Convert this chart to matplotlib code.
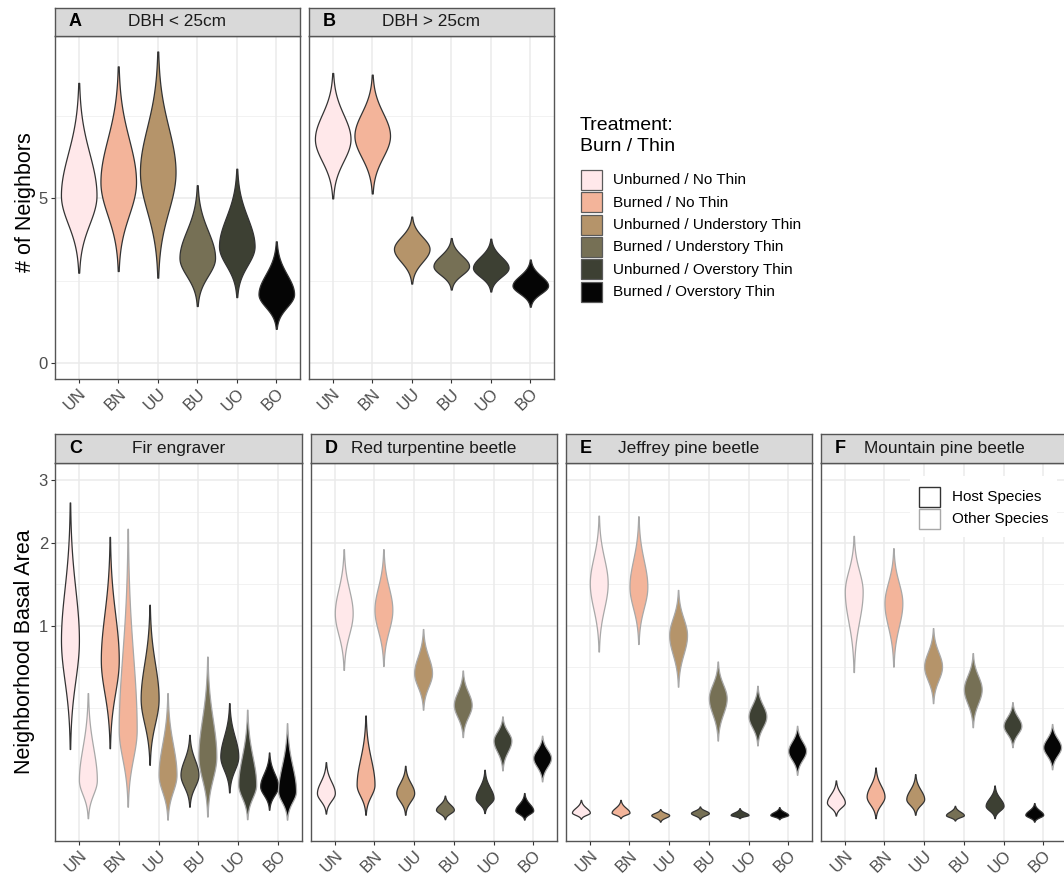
import numpy as np
import matplotlib.pyplot as plt
from matplotlib.patches import Rectangle

plt.rcParams['font.family'] = ['Liberation Sans', 'DejaVu Sans']

W, H = 1064, 882

treatments = ["UN", "BN", "UU", "BU", "UO", "BO"]
treat_labels = ["Unburned / No Thin", "Burned / No Thin", "Unburned / Understory Thin",
                "Burned / Understory Thin", "Unburned / Overstory Thin", "Burned / Overstory Thin"]
treat_colors = ["#FFE8EA", "#F3B49A", "#B5946A", "#767055", "#3D4033", "#050505"]

# top row: number of neighbours (min, mode, max of each violin)
small_lo = [2.75, 2.80, 2.60, 1.74, 2.01, 1.05]
small_mode = [5.1, 5.5, 5.8, 3.2, 3.55, 2.1]
small_hi = [8.5, 9.0, 9.45, 5.4, 5.9, 3.7]
large_lo = [5.0, 5.15, 2.42, 2.24, 2.18, 1.72]
large_mode = [6.8, 6.9, 3.47, 2.95, 2.9, 2.36]
large_hi = [8.8, 8.75, 4.45, 3.8, 3.78, 3.15]

# bottom row: neighbourhood basal area, [min, mode, max] per treatment
fir_host = [[0.144, 0.147, 0.09, 0.008, 0.026, 0.0055],
            [0.86, 0.685, 0.40, 0.0625, 0.117, 0.037],
            [2.62, 2.09, 1.22, 0.203, 0.372, 0.131]]
fir_other = [[0.001, 0.008, 0.0006, 0.0016, 0.0007, 0.0006],
             [0.05, 0.227, 0.0625, 0.117, 0.04, 0.028],
             [0.436, 2.21, 0.436, 0.712, 0.333, 0.259]]
rtb_host = [[0.003, 0.0024, 0.0024, 0.0007, 0.0033, 0.0006],
            [0.025, 0.04, 0.025, 0.0055, 0.0176, 0.005],
            [0.098, 0.30, 0.087, 0.021, 0.0756, 0.025]]
rtb_other = [[0.604, 0.635, 0.333, 0.193, 0.074, 0.047],
             [1.128, 1.164, 0.579, 0.361, 0.178, 0.112],
             [1.915, 1.915, 0.965, 0.599, 0.295, 0.199]]
jpb_host = [[0.0008, 0.001, 0.0002, 0.0007, 0.001, 0.0007],
            [0.0036, 0.0036, 0.0022, 0.0033, 0.0023, 0.0023],
            [0.0153, 0.0153, 0.006, 0.0082, 0.0067, 0.0076]]
jpb_other = [[0.756, 0.823, 0.48, 0.178, 0.158, 0.0625],
             [1.47, 1.43, 0.906, 0.403, 0.295, 0.137],
             [2.41, 2.40, 1.39, 0.671, 0.486, 0.246]]
mpb_host = [[0.002, 0.001, 0.0024, 0.0004, 0.001, 0.0002],
            [0.0122, 0.0198, 0.0163, 0.0022, 0.0088, 0.0024],
            [0.049, 0.082, 0.064, 0.0088, 0.0384, 0.0116]]
mpb_other = [[0.587, 0.630, 0.372, 0.239, 0.151, 0.077],
             [1.371, 1.239, 0.630, 0.462, 0.246, 0.151],
             [2.105, 1.929, 0.974, 0.742, 0.378, 0.255]]

GRID = "#EBEBEB"
BORDER = "#555555"


def px_axes(fig, x0, y0, x1, y1):
    return fig.add_axes([x0 / W, 1 - y1 / H, (x1 - x0) / W, (y1 - y0) / H])


def violin(ax, x, lo, mode, hi, hw, fc, ec):
    y = np.linspace(lo, hi, 300)
    d = np.where(y < mode, (y - mode) / (mode - lo), (y - mode) / (hi - mode))
    w = hw * np.exp(-0.5 * (2.7 * d) ** 2)
    ax.fill_betweenx(y, x - w, x + w, facecolor=fc, edgecolor=ec, lw=0.9, zorder=3)


def style_panel(ax, minor, show_y):
    ax.set_xlim(0.4, 6.6)
    ax.set_xticks(range(1, 7))
    ax.set_xticklabels(treatments, rotation=45, ha="right", va="top",
                       rotation_mode="anchor")
    for m in minor:
        ax.axhline(m, color="#F2F2F2", lw=0.7, zorder=0)
    ax.grid(True, color=GRID, lw=1.1, zorder=0)
    ax.set_axisbelow(True)
    for s in ax.spines.values():
        s.set_color(BORDER)
        s.set_linewidth(1.0)
    ax.tick_params(length=3, width=0.8, color="#333333", labelsize=12,
                   labelcolor="#4D4D4D", pad=2)
    if not show_y:
        ax.tick_params(axis="y", left=False, labelleft=False)


def strip(fig, x0, x1, y0, y1, letter, title):
    s = px_axes(fig, x0, y0, x1, y1)
    s.set_facecolor("#D9D9D9")
    s.set_xticks([])
    s.set_yticks([])
    for sp in s.spines.values():
        sp.set_color(BORDER)
        sp.set_linewidth(1.0)
    s.text(14 / (x1 - x0), 0.5, letter, transform=s.transAxes, fontsize=13,
           fontweight="bold", ha="left", va="center")
    s.text(0.5, 0.5, title, transform=s.transAxes, fontsize=12.4,
           ha="center", va="center", color="#1A1A1A")


fig = plt.figure(figsize=(W / 100, H / 100), dpi=100)

# ---- top row
top = [(55, 300, "A", "DBH < 25cm", small_lo, small_mode, small_hi),
       (309, 554, "B", "DBH > 25cm", large_lo, large_mode, large_hi)]
for k, (x0, x1, letter, title, lo, md, hi) in enumerate(top):
    ax = px_axes(fig, x0, 36, x1, 379)
    for i in range(6):
        violin(ax, i + 1, lo[i], md[i], hi[i], 0.45, treat_colors[i], "#333333")
    ax.set_ylim(-0.47, 9.92)
    ax.set_yticks([0, 5])
    style_panel(ax, [2.5, 7.5], k == 0)
    strip(fig, x0, x1, 8, 36, letter, title)

# ---- bottom row (sqrt scale)
bottom = [(55, 302, "C", "Fir engraver", fir_host, fir_other),
          (311, 557, "D", "Red turpentine beetle", rtb_host, rtb_other),
          (566, 812, "E", "Jeffrey pine beetle", jpb_host, jpb_other),
          (821, 1067, "F", "Mountain pine beetle", mpb_host, mpb_other)]
for k, (x0, x1, letter, title, host, other) in enumerate(bottom):
    ax = px_axes(fig, x0, 463, x1, 841)
    for i in range(6):
        violin(ax, i + 1 - 0.225, np.sqrt(host[0][i]), np.sqrt(host[1][i]),
               np.sqrt(host[2][i]), 0.225, treat_colors[i], "#333333")
        violin(ax, i + 1 + 0.225, np.sqrt(other[0][i]), np.sqrt(other[1][i]),
               np.sqrt(other[2][i]), 0.225, treat_colors[i], "#A8A8A8")
    ax.set_ylim(-0.083, 1.817)
    ax.set_yticks(np.sqrt([1, 2, 3]))
    ax.set_yticklabels(["1", "2", "3"])
    style_panel(ax, [0.586, 0.793, 1.207, 1.573], k == 0)
    strip(fig, x0, x1, 434, 463, letter, title)
    if letter == "F":
        ax.add_patch(Rectangle((0.36, 0.805), 0.6, 0.16, transform=ax.transAxes,
                               facecolor="white", edgecolor="none", zorder=4))

fig.text(25 / W, 1 - 202 / H, "# of Neighbors", rotation=90, fontsize=15.5,
         ha="center", va="center")
fig.text(25 / W, 1 - 652 / H, "Neighborhood Basal Area", rotation=90, fontsize=15.5,
         ha="center", va="center")

# ---- legends drawn in pixel space
lg = fig.add_axes([0, 0, 1, 1], zorder=10)
lg.set_xlim(0, W)
lg.set_ylim(H, 0)
lg.axis("off")
lg.text(580, 117, "Treatment:\nBurn / Thin", fontsize=14, ha="left", va="top",
        linespacing=1.3)
for i in range(6):
    yk = 170 + i * 22.3
    lg.add_patch(Rectangle((581, yk), 21, 20, facecolor=treat_colors[i],
                           edgecolor="#5A5A5A", lw=0.9))
    lg.text(613, yk + 10.5, treat_labels[i], fontsize=11, ha="left", va="center")

for j, (name, ec) in enumerate([("Host Species", "#333333"), ("Other Species", "#A8A8A8")]):
    yk = 487 + j * 22
    lg.add_patch(Rectangle((919, yk), 21, 20, facecolor="white", edgecolor=ec, lw=1.0))
    lg.text(952, yk + 10.5, name, fontsize=11, ha="left", va="center")

fig.savefig("out.png", dpi=100)
